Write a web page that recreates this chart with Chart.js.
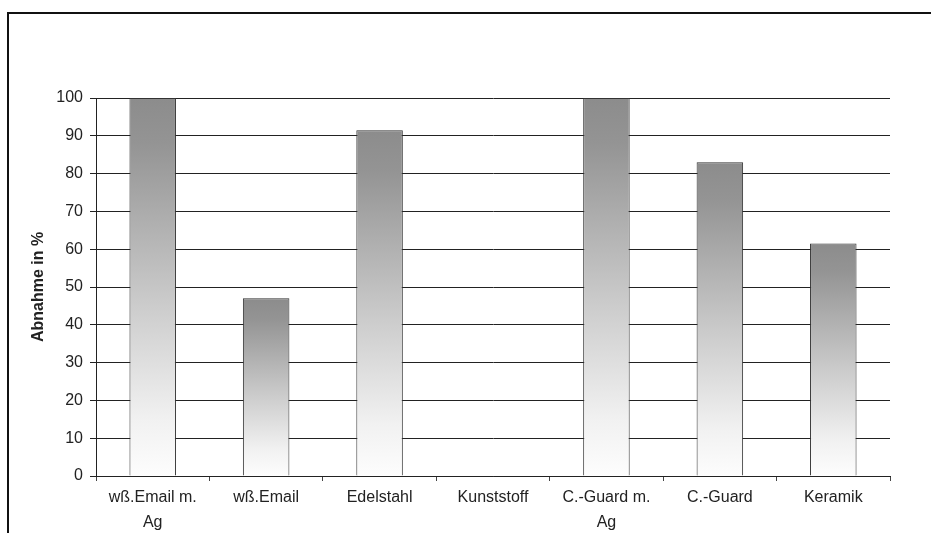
<!DOCTYPE html>
<html>
<head>
<meta charset="utf-8">
<script src="https://cdn.jsdelivr.net/npm/chart.js@4"></script>
<style>
  html, body { margin: 0; padding: 0; background: #fff; }
  #wrap { position: relative; width: 931px; height: 533px; overflow: hidden; }
  #frame { position: absolute; left: 7px; top: 12px; width: 940px; height: 540px;
           border-top: 2px solid #111; border-left: 2px solid #111; }
  canvas { position: absolute; left: 0; top: 0; }
</style>
</head>
<body>
<div id="wrap">
  <div id="frame"></div>
  <canvas id="chart" width="931" height="533"></canvas>
</div>
<script>
// Data
const categories = [
    ['wß.Email m.', 'Ag'],
    'wß.Email',
    'Edelstahl',
    'Kunststoff',
    ['C.-Guard m.', 'Ag'],
    'C.-Guard',
    'Keramik'
];
const abnahme = [100, 47, 91.5, 0, 100, 83, 61.5];
const yTicks = [0, 10, 20, 30, 40, 50, 60, 70, 80, 90, 100];

const ctx = document.getElementById('chart').getContext('2d');

// gradient per bar: dark at the top of each bar, white at its base
function barGradient(context) {
    const chart = context.chart;
    if (!chart.chartArea) return '#999';
    const y = chart.scales.y;
    const top = y.getPixelForValue(context.raw);
    const bottom = y.getPixelForValue(0);
    if (bottom - top < 1) return '#fff';
    const g = chart.ctx.createLinearGradient(0, top, 0, bottom);
    g.addColorStop(0, '#8c8c8c');
    g.addColorStop(0.12, '#949494');
    g.addColorStop(0.55, '#cccccc');
    g.addColorStop(0.85, '#f1f1f1');
    g.addColorStop(1, '#fdfdfd');
    return g;
}

new Chart(ctx, {
    type: 'bar',
    data: {
        labels: categories,
        datasets: [{
            data: abnahme,
            backgroundColor: barGradient,
            borderColor: '#333',
            borderWidth: 1,
            categoryPercentage: 1,
            barPercentage: 0.41
        }]
    },
    options: {
        responsive: false,
        animation: false,
        layout: { padding: { left: 29, top: 98, right: 41, bottom: 0 } },
        plugins: { legend: { display: false }, tooltip: { enabled: false } },
        scales: {
            y: {
                min: 0,
                max: 100,
                afterBuildTicks: (s) => { s.ticks = yTicks.map(v => ({ value: v })); },
                afterFit: (s) => { s.width = 67; },
                border: { display: true, color: '#222', width: 1 },
                grid: {
                    color: '#222',
                    lineWidth: 1,
                    tickLength: 6
                },
                ticks: {
                    color: '#222',
                    padding: 7,
                    font: { family: 'Liberation Sans', size: 16 }
                },
                title: {
                    display: true,
                    text: 'Abnahme in %',
                    color: '#222',
                    padding: { top: 0, bottom: 0 },
                    font: { family: 'Liberation Sans', size: 16, weight: 'bold' }
                }
            },
            x: {
                afterFit: (s) => { s.height = 57; },
                border: { display: true, color: '#222', width: 1 },
                grid: {
                    offset: true,
                    drawOnChartArea: false,
                    color: '#444',
                    tickLength: 5
                },
                ticks: {
                    color: '#222',
                    padding: 4,
                    maxRotation: 0,
                    font: { family: 'Liberation Sans', size: 16, lineHeight: 1.55 }
                }
            }
        }
    }
});
</script>
</body>
</html>
